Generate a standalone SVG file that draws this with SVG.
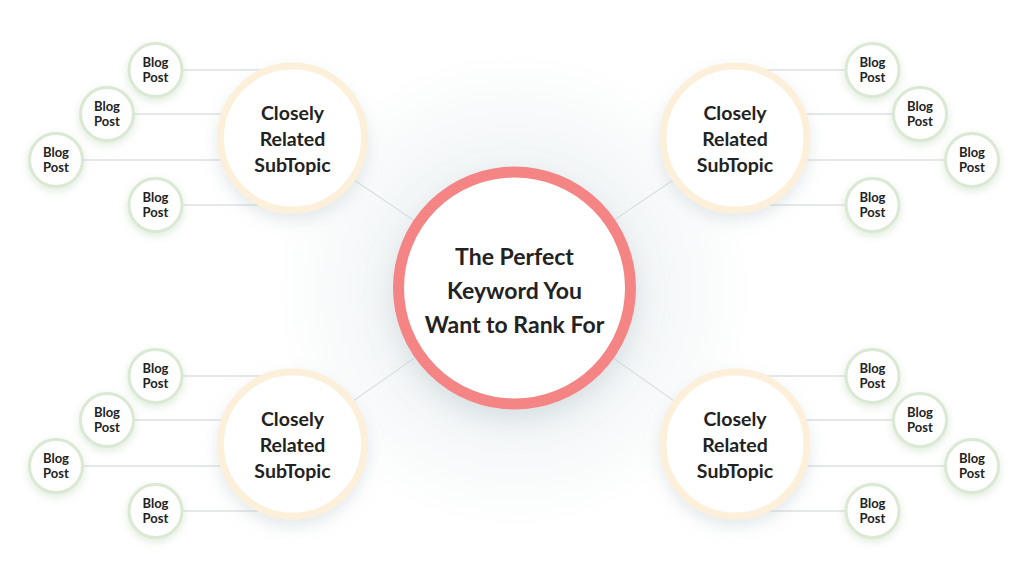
<svg xmlns="http://www.w3.org/2000/svg" width="1024" height="572" viewBox="0 0 1024 572">
<defs>
<style>
.conn{stroke:#dde1e2;stroke-width:1.3;fill:none}
.main{fill:#ffffff;stroke:#f48584;stroke-width:11}
.sub{fill:#ffffff;stroke:#fcf0da;stroke-width:7}
.blog{fill:#ffffff;stroke:#dbe8d3;stroke-width:3}
text{font-family:Lato,"Liberation Sans",sans-serif;font-weight:bold;fill:#222222;text-anchor:middle}
.tm{font-size:23px}
.ts{font-size:19.5px}
.tb{font-size:13px}
</style>
<filter id="shMain" x="-40%" y="-40%" width="180%" height="190%">
<feDropShadow dx="0" dy="10" stdDeviation="14" flood-color="#9fb0b8" flood-opacity="0.35"/>
</filter>
<filter id="shSub" x="-40%" y="-40%" width="180%" height="190%">
<feDropShadow dx="0" dy="7" stdDeviation="8" flood-color="#a9b8c0" flood-opacity="0.3"/>
</filter>
<filter id="shBlog" x="-50%" y="-50%" width="200%" height="210%">
<feDropShadow dx="0" dy="3" stdDeviation="4" flood-color="#b7d2b0" flood-opacity="0.45"/>
</filter>
<radialGradient id="bg" cx="514" cy="290" r="240" gradientUnits="userSpaceOnUse">
<stop offset="0" stop-color="#eef2f4"/>
<stop offset="0.6" stop-color="#f4f7f8"/>
<stop offset="1" stop-color="#ffffff"/>
</radialGradient>
</defs>
<rect width="1024" height="572" fill="url(#bg)"/>
<g id="connectors">
<line class="conn" x1="292" y1="138" x2="514" y2="288"/>
<line class="conn" x1="735" y1="138" x2="514" y2="288"/>
<line class="conn" x1="292" y1="444" x2="514" y2="288"/>
<line class="conn" x1="735" y1="444" x2="514" y2="288"/>
<line class="conn" x1="155" y1="70" x2="292" y2="70"/>
<line class="conn" x1="107" y1="114" x2="292" y2="114"/>
<line class="conn" x1="56" y1="160" x2="292" y2="160"/>
<line class="conn" x1="155" y1="205" x2="292" y2="205"/>
<line class="conn" x1="873" y1="70" x2="735" y2="70"/>
<line class="conn" x1="920" y1="114" x2="735" y2="114"/>
<line class="conn" x1="972" y1="160" x2="735" y2="160"/>
<line class="conn" x1="873" y1="205" x2="735" y2="205"/>
<line class="conn" x1="155" y1="376" x2="292" y2="376"/>
<line class="conn" x1="107" y1="420" x2="292" y2="420"/>
<line class="conn" x1="56" y1="466" x2="292" y2="466"/>
<line class="conn" x1="155" y1="511" x2="292" y2="511"/>
<line class="conn" x1="873" y1="376" x2="735" y2="376"/>
<line class="conn" x1="920" y1="420" x2="735" y2="420"/>
<line class="conn" x1="972" y1="466" x2="735" y2="466"/>
<line class="conn" x1="873" y1="511" x2="735" y2="511"/>
</g>
<g id="main">
<circle class="main" cx="514.5" cy="288" r="116" filter="url(#shMain)"/>
<text class="tm" x="514.5" y="265">The Perfect</text>
<text class="tm" x="514.5" y="299">Keyword You</text>
<text class="tm" x="514.5" y="333">Want to Rank For</text>
</g>
<g id="sub-tl">
<circle class="sub" cx="292.5" cy="138" r="72" filter="url(#shSub)"/>
<text class="ts" x="292.5" y="120">Closely</text>
<text class="ts" x="292.5" y="146">Related</text>
<text class="ts" x="292.5" y="172">SubTopic</text>
</g>
<g id="sub-tr">
<circle class="sub" cx="735" cy="138" r="72" filter="url(#shSub)"/>
<text class="ts" x="735" y="120">Closely</text>
<text class="ts" x="735" y="146">Related</text>
<text class="ts" x="735" y="172">SubTopic</text>
</g>
<g id="sub-bl">
<circle class="sub" cx="292.5" cy="444" r="72" filter="url(#shSub)"/>
<text class="ts" x="292.5" y="426">Closely</text>
<text class="ts" x="292.5" y="452">Related</text>
<text class="ts" x="292.5" y="478">SubTopic</text>
</g>
<g id="sub-br">
<circle class="sub" cx="735" cy="444" r="72" filter="url(#shSub)"/>
<text class="ts" x="735" y="426">Closely</text>
<text class="ts" x="735" y="452">Related</text>
<text class="ts" x="735" y="478">SubTopic</text>
</g>
<g id="blog-tl-1"><circle class="blog" cx="155.5" cy="70" r="26.5" filter="url(#shBlog)"/><text class="tb" x="155.5" y="67">Blog</text><text class="tb" x="155.5" y="82">Post</text></g>
<g id="blog-tl-2"><circle class="blog" cx="107" cy="114" r="26.5" filter="url(#shBlog)"/><text class="tb" x="107" y="111">Blog</text><text class="tb" x="107" y="126">Post</text></g>
<g id="blog-tl-3"><circle class="blog" cx="56" cy="160" r="26.5" filter="url(#shBlog)"/><text class="tb" x="56" y="157">Blog</text><text class="tb" x="56" y="172">Post</text></g>
<g id="blog-tl-4"><circle class="blog" cx="155.5" cy="205" r="26.5" filter="url(#shBlog)"/><text class="tb" x="155.5" y="202">Blog</text><text class="tb" x="155.5" y="217">Post</text></g>
<g id="blog-tr-1"><circle class="blog" cx="872.5" cy="70" r="26.5" filter="url(#shBlog)"/><text class="tb" x="872.5" y="67">Blog</text><text class="tb" x="872.5" y="82">Post</text></g>
<g id="blog-tr-2"><circle class="blog" cx="920" cy="114" r="26.5" filter="url(#shBlog)"/><text class="tb" x="920" y="111">Blog</text><text class="tb" x="920" y="126">Post</text></g>
<g id="blog-tr-3"><circle class="blog" cx="972" cy="160" r="26.5" filter="url(#shBlog)"/><text class="tb" x="972" y="157">Blog</text><text class="tb" x="972" y="172">Post</text></g>
<g id="blog-tr-4"><circle class="blog" cx="872.5" cy="205" r="26.5" filter="url(#shBlog)"/><text class="tb" x="872.5" y="202">Blog</text><text class="tb" x="872.5" y="217">Post</text></g>
<g id="blog-bl-1"><circle class="blog" cx="155.5" cy="376" r="26.5" filter="url(#shBlog)"/><text class="tb" x="155.5" y="373">Blog</text><text class="tb" x="155.5" y="388">Post</text></g>
<g id="blog-bl-2"><circle class="blog" cx="107" cy="420" r="26.5" filter="url(#shBlog)"/><text class="tb" x="107" y="417">Blog</text><text class="tb" x="107" y="432">Post</text></g>
<g id="blog-bl-3"><circle class="blog" cx="56" cy="466" r="26.5" filter="url(#shBlog)"/><text class="tb" x="56" y="463">Blog</text><text class="tb" x="56" y="478">Post</text></g>
<g id="blog-bl-4"><circle class="blog" cx="155.5" cy="511" r="26.5" filter="url(#shBlog)"/><text class="tb" x="155.5" y="508">Blog</text><text class="tb" x="155.5" y="523">Post</text></g>
<g id="blog-br-1"><circle class="blog" cx="872.5" cy="376" r="26.5" filter="url(#shBlog)"/><text class="tb" x="872.5" y="373">Blog</text><text class="tb" x="872.5" y="388">Post</text></g>
<g id="blog-br-2"><circle class="blog" cx="920" cy="420" r="26.5" filter="url(#shBlog)"/><text class="tb" x="920" y="417">Blog</text><text class="tb" x="920" y="432">Post</text></g>
<g id="blog-br-3"><circle class="blog" cx="972" cy="466" r="26.5" filter="url(#shBlog)"/><text class="tb" x="972" y="463">Blog</text><text class="tb" x="972" y="478">Post</text></g>
<g id="blog-br-4"><circle class="blog" cx="872.5" cy="511" r="26.5" filter="url(#shBlog)"/><text class="tb" x="872.5" y="508">Blog</text><text class="tb" x="872.5" y="523">Post</text></g>
</svg>
